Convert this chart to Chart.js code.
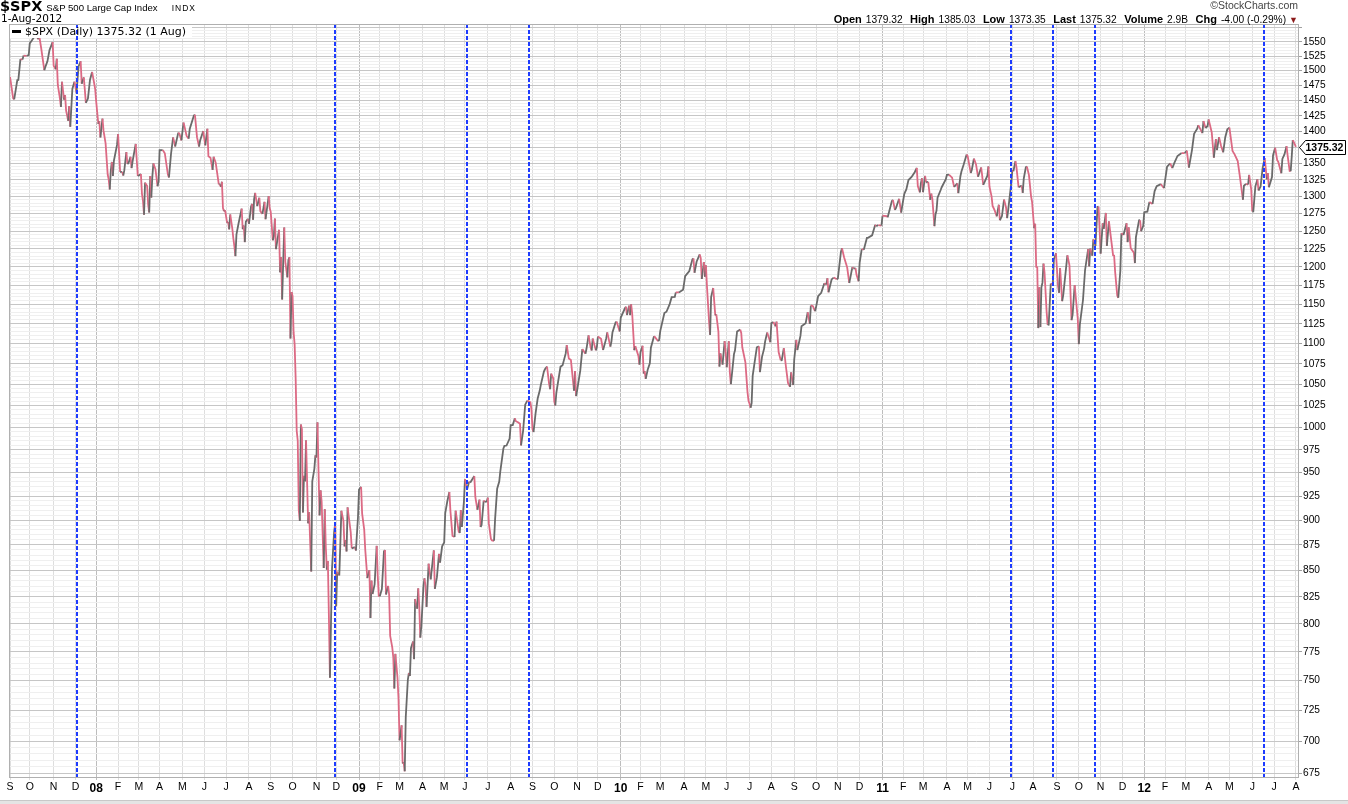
<!DOCTYPE html>
<html><head><meta charset="utf-8">
<script src="https://cdn.jsdelivr.net/npm/chart.js@4.4.1/dist/chart.umd.min.js"></script>
<style>
html,body{margin:0;padding:0;background:#fff;}
body{width:1348px;height:804px;position:relative;overflow:hidden;font-family:'Liberation Sans',Arial,sans-serif;color:#000;}
#wrap{position:absolute;left:0;top:0;width:1348px;height:804px;}
.abs{position:absolute;white-space:nowrap;}
.lb{font-weight:bold;font-size:11px;}
.vl{font-size:10.2px;margin-left:4px;}
.pr{margin-left:7.5px;}
</style></head><body>
<div id="wrap"><canvas id="c"></canvas></div>
<div class="abs" style="left:0;top:-2px;line-height:16px;"><span style="font-family:'DejaVu Sans';font-weight:bold;font-size:14.5px;">$SPX</span><span style="font-size:9.6px;margin-left:4px;">S&amp;P 500 Large Cap Index</span><span style="font-size:8.5px;letter-spacing:1px;margin-left:14px;">INDX</span></div>
<div class="abs" style="left:1px;top:11px;line-height:14px;font-family:'DejaVu Sans';font-size:10.5px;">1-Aug-2012</div>
<div class="abs" style="right:50px;top:-1px;line-height:13px;font-size:10.5px;color:#444;">©StockCharts.com</div>
<div class="abs" style="right:50px;top:11px;line-height:14px;"><span class="lb">Open</span><span class="vl">1379.32</span><span class="lb pr">High</span><span class="vl">1385.03</span><span class="lb pr">Low</span><span class="vl">1373.35</span><span class="lb pr">Last</span><span class="vl">1375.32</span><span class="lb pr">Volume</span><span class="vl">2.9B</span><span class="lb pr">Chg</span><span class="vl">-4.00 (-0.29%)</span><span style="font-size:9px;color:#8b1a1a;margin-left:3px;">▼</span></div>
<div class="abs" style="left:12px;top:30px;width:9px;height:3px;background:#000;"></div>
<div class="abs" style="left:25px;top:24px;line-height:15px;font-family:'DejaVu Sans';font-size:11px;">$SPX (Daily) 1375.32 (1 Aug)</div>
<div class="abs" style="left:0;top:800px;width:1348px;height:4px;background:#e4e4e4;border-top:1px solid #c8c8c8;"></div>
<script>
// ---- data ----
const dates = [
'2007-09-04','2007-09-07','2007-09-10','2007-09-13','2007-09-14','2007-09-18','2007-09-20','2007-09-21','2007-09-26','2007-09-28',
'2007-10-01','2007-10-05','2007-10-09','2007-10-11','2007-10-12','2007-10-16','2007-10-19','2007-10-22','2007-10-24','2007-10-26','2007-10-31',
'2007-11-01','2007-11-05','2007-11-06','2007-11-07','2007-11-09','2007-11-12','2007-11-13','2007-11-15','2007-11-16','2007-11-19','2007-11-21','2007-11-23','2007-11-26','2007-11-28','2007-11-30',
'2007-12-04','2007-12-06','2007-12-10','2007-12-11','2007-12-13','2007-12-14','2007-12-17','2007-12-19','2007-12-21','2007-12-26','2007-12-28','2007-12-31',
'2008-01-02','2008-01-04','2008-01-07','2008-01-08','2008-01-10','2008-01-11','2008-01-15','2008-01-17','2008-01-18','2008-01-22','2008-01-23','2008-01-24','2008-01-25','2008-01-28','2008-01-31',
'2008-02-01','2008-02-05','2008-02-07','2008-02-08','2008-02-11','2008-02-13','2008-02-14','2008-02-15','2008-02-20','2008-02-21','2008-02-22','2008-02-27','2008-02-29',
'2008-03-03','2008-03-05','2008-03-06','2008-03-07','2008-03-10','2008-03-11','2008-03-13','2008-03-14','2008-03-17','2008-03-18','2008-03-19','2008-03-20','2008-03-24','2008-03-26','2008-03-28','2008-03-31',
'2008-04-01','2008-04-04','2008-04-08','2008-04-11','2008-04-14','2008-04-16','2008-04-18','2008-04-22','2008-04-25','2008-04-28','2008-04-30',
'2008-05-02','2008-05-05','2008-05-07','2008-05-09','2008-05-12','2008-05-16','2008-05-19','2008-05-21','2008-05-23','2008-05-27','2008-05-30',
'2008-06-03','2008-06-05','2008-06-06','2008-06-10','2008-06-12','2008-06-13','2008-06-17','2008-06-20','2008-06-23','2008-06-24','2008-06-25','2008-06-26','2008-06-27','2008-06-30',
'2008-07-02','2008-07-03','2008-07-07','2008-07-08','2008-07-10','2008-07-11','2008-07-14','2008-07-15','2008-07-16','2008-07-18','2008-07-23','2008-07-24','2008-07-25','2008-07-28','2008-07-29','2008-07-31',
'2008-08-01','2008-08-05','2008-08-06','2008-08-07','2008-08-08','2008-08-11','2008-08-13','2008-08-15','2008-08-18','2008-08-20','2008-08-22','2008-08-25','2008-08-28','2008-08-29',
'2008-09-02','2008-09-04','2008-09-05','2008-09-08','2008-09-09','2008-09-12','2008-09-15','2008-09-16','2008-09-17','2008-09-18','2008-09-19','2008-09-22','2008-09-24','2008-09-25','2008-09-26','2008-09-29','2008-09-30',
'2008-10-01','2008-10-02','2008-10-03','2008-10-06','2008-10-07','2008-10-08','2008-10-09','2008-10-10','2008-10-13','2008-10-14','2008-10-15','2008-10-16','2008-10-17','2008-10-20','2008-10-22','2008-10-23','2008-10-24','2008-10-27','2008-10-28','2008-10-30','2008-10-31',
'2008-11-03','2008-11-04','2008-11-05','2008-11-06','2008-11-07','2008-11-10','2008-11-12','2008-11-13','2008-11-14','2008-11-17','2008-11-18','2008-11-19','2008-11-20','2008-11-21','2008-11-24','2008-11-26','2008-11-28',
'2008-12-01','2008-12-02','2008-12-04','2008-12-05','2008-12-08','2008-12-10','2008-12-11','2008-12-12','2008-12-15','2008-12-16','2008-12-17','2008-12-19','2008-12-22','2008-12-26','2008-12-29','2008-12-31',
'2009-01-02','2009-01-06','2009-01-07','2009-01-09','2009-01-12','2009-01-14','2009-01-16','2009-01-20','2009-01-21','2009-01-22','2009-01-23','2009-01-26','2009-01-28','2009-01-29','2009-01-30',
'2009-02-02','2009-02-04','2009-02-06','2009-02-09','2009-02-10','2009-02-12','2009-02-13','2009-02-17','2009-02-19','2009-02-20','2009-02-23','2009-02-24','2009-02-26','2009-02-27',
'2009-03-02','2009-03-04','2009-03-05','2009-03-06','2009-03-09','2009-03-10','2009-03-12','2009-03-13','2009-03-16','2009-03-17','2009-03-19','2009-03-20','2009-03-23','2009-03-25','2009-03-26','2009-03-27','2009-03-30','2009-03-31',
'2009-04-02','2009-04-03','2009-04-06','2009-04-07','2009-04-09','2009-04-14','2009-04-17','2009-04-20','2009-04-22','2009-04-24','2009-04-27','2009-04-29',
'2009-05-01','2009-05-04','2009-05-06','2009-05-08','2009-05-11','2009-05-13','2009-05-15','2009-05-18','2009-05-21','2009-05-22','2009-05-26','2009-05-27','2009-05-29',
'2009-06-01','2009-06-03','2009-06-05','2009-06-08','2009-06-12','2009-06-15','2009-06-17','2009-06-19','2009-06-22','2009-06-23','2009-06-25','2009-06-26','2009-06-30',
'2009-07-01','2009-07-02','2009-07-07','2009-07-08','2009-07-10','2009-07-13','2009-07-15','2009-07-17','2009-07-20','2009-07-23','2009-07-24','2009-07-28','2009-07-31',
'2009-08-03','2009-08-05','2009-08-07','2009-08-10','2009-08-12','2009-08-14','2009-08-17','2009-08-19','2009-08-21','2009-08-25','2009-08-28','2009-08-31',
'2009-09-01','2009-09-02','2009-09-04','2009-09-09','2009-09-11','2009-09-14','2009-09-17','2009-09-18','2009-09-22','2009-09-24','2009-09-25','2009-09-28','2009-09-30',
'2009-10-01','2009-10-02','2009-10-05','2009-10-09','2009-10-13','2009-10-16','2009-10-19','2009-10-21','2009-10-23','2009-10-26','2009-10-28','2009-10-29','2009-10-30',
'2009-11-02','2009-11-05','2009-11-09','2009-11-12','2009-11-13','2009-11-17','2009-11-19','2009-11-20','2009-11-23','2009-11-27','2009-11-30',
'2009-12-01','2009-12-04','2009-12-08','2009-12-11','2009-12-14','2009-12-17','2009-12-18','2009-12-21','2009-12-24','2009-12-28','2009-12-31',
'2010-01-04','2010-01-08','2010-01-11','2010-01-12','2010-01-14','2010-01-15','2010-01-19','2010-01-20','2010-01-22','2010-01-25','2010-01-28','2010-01-29',
'2010-02-01','2010-02-03','2010-02-04','2010-02-05','2010-02-08','2010-02-10','2010-02-12','2010-02-16','2010-02-19','2010-02-22','2010-02-25','2010-02-26',
'2010-03-01','2010-03-05','2010-03-09','2010-03-12','2010-03-16','2010-03-19','2010-03-22','2010-03-25','2010-03-26','2010-03-31',
'2010-04-01','2010-04-05','2010-04-09','2010-04-14','2010-04-15','2010-04-16','2010-04-20','2010-04-23','2010-04-26','2010-04-27','2010-04-29','2010-04-30',
'2010-05-03','2010-05-04','2010-05-06','2010-05-07','2010-05-10','2010-05-12','2010-05-14','2010-05-17','2010-05-19','2010-05-20','2010-05-21','2010-05-25','2010-05-27','2010-05-28',
'2010-06-01','2010-06-03','2010-06-04','2010-06-07','2010-06-08','2010-06-10','2010-06-11','2010-06-15','2010-06-18','2010-06-21','2010-06-22','2010-06-25','2010-06-29','2010-06-30',
'2010-07-01','2010-07-02','2010-07-06','2010-07-07','2010-07-09','2010-07-13','2010-07-15','2010-07-16','2010-07-20','2010-07-22','2010-07-23','2010-07-27','2010-07-30',
'2010-08-02','2010-08-04','2010-08-06','2010-08-09','2010-08-11','2010-08-13','2010-08-16','2010-08-18','2010-08-20','2010-08-24','2010-08-26','2010-08-27','2010-08-31',
'2010-09-01','2010-09-03','2010-09-07','2010-09-10','2010-09-13','2010-09-17','2010-09-21','2010-09-23','2010-09-24','2010-09-28','2010-09-30',
'2010-10-01','2010-10-05','2010-10-08','2010-10-13','2010-10-15','2010-10-18','2010-10-19','2010-10-22','2010-10-26','2010-10-29',
'2010-11-01','2010-11-04','2010-11-05','2010-11-09','2010-11-12','2010-11-16','2010-11-19','2010-11-22','2010-11-24','2010-11-26','2010-11-30',
'2010-12-01','2010-12-03','2010-12-07','2010-12-10','2010-12-13','2010-12-17','2010-12-22','2010-12-23','2010-12-28','2010-12-31',
'2011-01-03','2011-01-07','2011-01-10','2011-01-14','2011-01-18','2011-01-20','2011-01-21','2011-01-26','2011-01-28','2011-01-31',
'2011-02-02','2011-02-04','2011-02-08','2011-02-11','2011-02-16','2011-02-18','2011-02-22','2011-02-24','2011-02-25','2011-02-28',
'2011-03-01','2011-03-03','2011-03-04','2011-03-08','2011-03-10','2011-03-11','2011-03-14','2011-03-16','2011-03-17','2011-03-18','2011-03-21','2011-03-24','2011-03-25','2011-03-31',
'2011-04-01','2011-04-05','2011-04-08','2011-04-12','2011-04-15','2011-04-18','2011-04-20','2011-04-21','2011-04-26','2011-04-29',
'2011-05-02','2011-05-05','2011-05-06','2011-05-10','2011-05-12','2011-05-16','2011-05-19','2011-05-23','2011-05-27','2011-05-31',
'2011-06-01','2011-06-03','2011-06-06','2011-06-08','2011-06-10','2011-06-14','2011-06-15','2011-06-17','2011-06-21','2011-06-23','2011-06-24','2011-06-27','2011-06-30',
'2011-07-01','2011-07-05','2011-07-07','2011-07-08','2011-07-12','2011-07-15','2011-07-18','2011-07-19','2011-07-21','2011-07-22','2011-07-26','2011-07-28','2011-07-29',
'2011-08-02','2011-08-03','2011-08-04','2011-08-05','2011-08-08','2011-08-09','2011-08-10','2011-08-11','2011-08-12','2011-08-15','2011-08-16','2011-08-18','2011-08-19','2011-08-22','2011-08-24','2011-08-26','2011-08-29','2011-08-31',
'2011-09-02','2011-09-06','2011-09-07','2011-09-09','2011-09-12','2011-09-16','2011-09-20','2011-09-22','2011-09-23','2011-09-27','2011-09-30',
'2011-10-03','2011-10-04','2011-10-07','2011-10-11','2011-10-14','2011-10-17','2011-10-18','2011-10-20','2011-10-21','2011-10-25','2011-10-27','2011-10-28','2011-10-31',
'2011-11-01','2011-11-03','2011-11-04','2011-11-08','2011-11-09','2011-11-11','2011-11-14','2011-11-17','2011-11-18','2011-11-21','2011-11-23','2011-11-25','2011-11-29','2011-11-30',
'2011-12-02','2011-12-07','2011-12-08','2011-12-09','2011-12-13','2011-12-16','2011-12-19','2011-12-20','2011-12-23','2011-12-27','2011-12-28','2011-12-30',
'2012-01-03','2012-01-06','2012-01-10','2012-01-13','2012-01-18','2012-01-20','2012-01-26','2012-01-27','2012-01-31',
'2012-02-03','2012-02-08','2012-02-10','2012-02-14','2012-02-17','2012-02-24','2012-02-29',
'2012-03-02','2012-03-06','2012-03-09','2012-03-13','2012-03-16','2012-03-19','2012-03-23','2012-03-26','2012-03-28','2012-03-30',
'2012-04-02','2012-04-05','2012-04-10','2012-04-12','2012-04-13','2012-04-17','2012-04-19','2012-04-23','2012-04-25','2012-04-27',
'2012-05-01','2012-05-04','2012-05-08','2012-05-11','2012-05-15','2012-05-18','2012-05-21','2012-05-23','2012-05-25','2012-05-29','2012-05-31',
'2012-06-01','2012-06-04','2012-06-06','2012-06-08','2012-06-11','2012-06-13','2012-06-15','2012-06-19','2012-06-21','2012-06-22','2012-06-25','2012-06-28','2012-06-29',
'2012-07-03','2012-07-06','2012-07-09','2012-07-12','2012-07-13','2012-07-17','2012-07-19','2012-07-20','2012-07-24','2012-07-25','2012-07-26','2012-07-27','2012-07-31','2012-08-01'
];
const closes = [
1489.42,1453.55,1451.70,1483.95,1484.25,1519.78,1518.75,1525.75,1525.42,1526.75,
1547.04,1557.59,1565.15,1554.41,1561.80,1538.53,1500.63,1506.33,1515.88,1535.28,1549.38,
1508.44,1502.17,1520.27,1475.62,1453.70,1439.18,1481.05,1451.15,1458.74,1433.27,1416.77,1440.70,1407.22,1469.02,1481.14,
1462.79,1507.34,1515.96,1477.65,1488.41,1467.95,1445.90,1453.00,1484.46,1497.66,1478.49,1468.36,
1447.16,1411.63,1416.18,1390.19,1420.33,1401.02,1380.95,1333.25,1325.19,1310.50,1338.60,1352.07,1330.61,1353.96,1378.55,
1395.42,1336.64,1336.91,1331.29,1339.13,1367.21,1348.86,1349.99,1360.03,1342.53,1353.11,1380.02,1330.63,
1331.34,1333.70,1304.34,1293.37,1273.37,1320.65,1315.48,1288.14,1276.60,1330.74,1298.42,1329.51,1349.88,1341.13,1315.22,1322.70,
1370.18,1370.40,1365.54,1332.83,1328.32,1364.71,1390.33,1375.94,1397.84,1396.37,1385.59,
1413.90,1407.49,1392.57,1388.28,1403.58,1425.35,1426.63,1390.71,1375.93,1385.35,1400.38,
1377.65,1404.05,1360.68,1358.44,1339.87,1360.03,1350.93,1317.93,1318.00,1314.29,1321.97,1283.15,1278.38,1280.00,
1261.52,1262.90,1252.31,1273.70,1253.39,1239.49,1228.30,1214.91,1245.36,1260.68,1282.19,1252.54,1257.76,1234.37,1263.20,1267.38,
1260.31,1284.88,1289.19,1266.07,1296.32,1305.32,1285.83,1298.20,1278.60,1274.54,1292.20,1266.84,1300.68,1282.83,
1277.58,1236.83,1242.31,1267.79,1224.51,1251.70,1192.70,1213.60,1156.39,1206.51,1255.08,1207.09,1185.87,1209.18,1213.27,1106.39,1166.36,
1161.06,1114.28,1099.23,1056.89,996.23,984.94,909.92,899.22,1003.35,998.01,907.84,946.43,940.55,985.40,896.78,908.11,876.77,848.92,940.51,954.09,968.75,
966.30,1005.75,952.77,904.88,930.99,919.21,852.30,911.29,873.29,850.75,859.12,806.58,752.44,800.03,851.81,887.68,896.24,
816.21,848.81,845.22,876.07,909.70,899.24,873.59,879.73,868.57,913.18,904.42,887.88,871.63,872.80,869.42,903.25,
931.80,934.70,906.65,890.35,870.26,842.62,850.12,805.22,840.24,827.50,831.95,836.57,874.09,845.14,825.88,
825.44,832.23,868.60,869.89,827.16,835.19,826.84,789.17,778.94,770.05,743.33,773.14,752.83,735.09,
700.82,712.87,682.55,683.38,676.53,719.60,750.74,756.55,753.89,778.12,784.04,768.54,822.92,813.88,832.86,815.94,787.53,797.87,
834.38,842.50,835.48,815.55,856.56,841.50,869.60,832.39,843.55,866.23,857.51,873.64,
877.52,907.24,919.53,929.23,909.24,883.92,882.88,909.71,888.33,887.00,910.33,893.06,919.14,
942.87,931.76,940.09,939.14,946.21,923.72,910.71,921.23,893.04,895.10,920.26,918.90,919.32,
923.33,896.42,881.03,879.56,879.13,901.05,932.68,940.38,951.13,976.29,979.26,979.62,987.48,
1002.63,1002.72,1010.48,1007.10,1005.81,1004.09,979.73,996.46,1026.13,1030.98,1028.93,1020.62,
998.04,994.75,1016.40,1033.37,1042.73,1049.34,1065.49,1068.30,1071.66,1050.78,1044.38,1062.98,1057.08,
1029.85,1025.21,1040.46,1071.49,1073.19,1087.68,1097.91,1081.40,1079.60,1066.95,1042.63,1066.11,1036.19,
1042.88,1066.63,1093.08,1087.24,1093.48,1110.32,1094.90,1091.38,1106.24,1091.49,1095.63,
1108.86,1105.98,1091.94,1106.41,1114.11,1096.08,1102.47,1114.05,1126.48,1127.78,1115.10,
1132.99,1144.98,1146.98,1136.22,1148.46,1136.03,1150.23,1138.04,1091.76,1096.78,1084.53,1073.87,
1089.19,1097.28,1063.11,1066.19,1056.74,1068.13,1075.51,1094.87,1109.17,1108.01,1102.94,1104.49,
1115.71,1138.70,1140.45,1149.99,1159.46,1159.90,1165.81,1165.73,1166.59,1169.43,
1178.10,1187.44,1194.37,1210.65,1211.67,1192.13,1207.17,1217.28,1212.05,1183.71,1206.78,1186.69,
1202.26,1173.60,1128.15,1110.88,1159.73,1171.67,1135.68,1136.94,1115.05,1071.59,1087.69,1074.03,1103.06,1089.41,
1070.71,1102.83,1064.88,1050.47,1062.00,1086.84,1091.60,1115.23,1117.51,1113.20,1095.31,1076.76,1041.24,1030.71,
1027.37,1022.58,1028.06,1060.27,1077.96,1095.34,1096.48,1064.88,1083.48,1093.67,1102.66,1113.84,1101.60,
1125.86,1127.24,1121.64,1127.79,1089.47,1079.25,1079.38,1094.16,1071.69,1051.87,1047.22,1064.59,1049.33,
1080.29,1104.51,1091.84,1109.55,1121.90,1125.59,1139.78,1124.83,1148.67,1147.70,1141.20,
1146.24,1160.75,1165.15,1178.10,1176.19,1184.71,1165.90,1183.08,1185.64,1183.26,
1184.38,1221.06,1225.85,1213.40,1199.21,1178.34,1199.73,1197.84,1198.35,1189.40,1180.55,
1206.07,1224.71,1223.75,1240.40,1240.46,1243.91,1258.84,1256.77,1258.51,1257.64,
1271.87,1271.50,1269.75,1293.24,1295.02,1280.26,1283.35,1296.63,1276.34,1286.12,
1304.03,1310.87,1324.57,1329.15,1336.32,1343.01,1315.44,1306.10,1319.88,1327.22,
1306.33,1330.97,1321.15,1321.82,1295.11,1304.28,1296.39,1256.88,1273.72,1279.21,1298.38,1309.66,1313.80,1325.83,
1332.41,1332.63,1328.17,1314.16,1319.68,1305.14,1330.36,1337.38,1347.24,1363.61,
1361.22,1335.10,1340.20,1357.16,1348.65,1329.47,1343.60,1317.37,1331.10,1345.20,
1314.55,1300.16,1286.17,1279.56,1270.98,1287.87,1265.42,1271.50,1295.52,1283.50,1268.45,1280.10,1320.64,
1339.67,1337.88,1353.22,1343.80,1313.64,1316.14,1305.44,1326.73,1343.80,1345.02,1331.94,1300.67,1292.28,
1254.05,1260.34,1200.07,1199.38,1119.46,1172.53,1120.76,1172.64,1178.81,1204.49,1192.76,1140.65,1123.53,1123.82,1177.60,1176.80,1210.08,1218.89,
1173.97,1165.24,1198.62,1154.23,1162.27,1216.01,1202.09,1129.56,1136.43,1175.38,1131.42,
1099.23,1123.95,1155.46,1195.54,1224.58,1200.86,1225.38,1215.39,1238.25,1229.05,1284.59,1285.09,1253.30,
1218.28,1261.15,1253.23,1275.92,1229.10,1263.85,1251.78,1216.13,1215.65,1192.98,1161.79,1158.67,1195.19,1246.96,
1244.28,1261.01,1234.35,1255.19,1225.73,1219.66,1205.35,1241.30,1265.33,1265.43,1249.64,1257.60,
1277.06,1277.81,1292.08,1289.09,1308.04,1315.38,1318.43,1316.33,1312.41,
1344.90,1349.96,1342.64,1350.50,1361.23,1365.74,1365.68,
1369.63,1343.36,1370.87,1395.95,1404.17,1409.75,1397.11,1416.51,1405.22,1408.47,
1419.04,1398.08,1358.59,1387.57,1370.26,1390.78,1376.92,1366.94,1390.69,1403.36,
1405.82,1369.10,1363.72,1353.39,1330.66,1295.22,1315.99,1318.86,1317.82,1332.42,1310.33,
1278.04,1278.18,1315.13,1325.66,1308.93,1314.88,1342.84,1357.98,1325.51,1335.02,1313.72,1329.04,1362.16,
1374.02,1354.68,1352.46,1334.76,1356.78,1363.67,1376.51,1362.66,1338.31,1337.89,1360.02,1385.97,1379.32,1375.32
];
// NYSE holidays in the period (trading-day calendar)
const holidays = ['2007-11-22','2007-12-25','2008-01-01','2008-01-21','2008-02-18','2008-03-21','2008-05-26','2008-07-04','2008-09-01','2008-11-27','2008-12-25',
'2009-01-01','2009-01-19','2009-02-16','2009-04-10','2009-05-25','2009-07-03','2009-09-07','2009-11-26','2009-12-25',
'2010-01-01','2010-01-18','2010-02-15','2010-04-02','2010-05-31','2010-07-05','2010-09-06','2010-11-25','2010-12-24',
'2011-01-17','2011-02-21','2011-04-22','2011-05-30','2011-07-04','2011-09-05','2011-11-24','2011-12-26',
'2012-01-02','2012-01-16','2012-02-20','2012-04-06','2012-05-28','2012-07-04'];
// blue dashed marker dates
const markerDates = ['2007-12-04','2008-11-28','2009-06-03','2009-08-27','2011-06-30','2011-08-26','2011-10-25','2012-06-18'];
const monthLetters = ['J','F','M','A','M','J','J','A','S','O','N','D'];
const lastValue = 1375.32;
const lastLabel = '1375.32';

// ---- trading-day calendar ----
const hol = new Set(holidays);
const tradingDays = [];
for (let t = Date.UTC(2007,8,4); t <= Date.UTC(2012,7,10); t += 86400000) {
  const dt = new Date(t); const wd = dt.getUTCDay(); const s = dt.toISOString().slice(0,10);
  if (wd === 0 || wd === 6 || hol.has(s)) continue;
  tradingDays.push(s);
}
const dayIndex = new Map(tradingDays.map((s,i)=>[s,i]));
function idx(s){ if (dayIndex.has(s)) return dayIndex.get(s); return tradingDays.findIndex(d=>d>s); }

const monthTicks = [], monthLabels = [], monthIsYear = [];
tradingDays.forEach((s,i)=>{
  if (i === 0 || s.slice(0,7) !== tradingDays[i-1].slice(0,7)) {
    const mo = +s.slice(5,7);
    monthTicks.push(i);
    if (mo === 1) { monthLabels.push(s.slice(2,4)); monthIsYear.push(true); }
    else { monthLabels.push(monthLetters[mo-1]); monthIsYear.push(false); }
  }
});
const X_MIN = -1, X_MAX = 1241;
const visTicks = monthTicks.map((d,i)=>({d,i})).filter(o=>o.d>=X_MIN && o.d<=X_MAX);

const yGrid = [];
for (let v = 675; v <= 1575; v += 5) yGrid.push(v);

const points = dates.map((d,i)=>({x: idx(d), y: closes[i]}));

const DOWN = '#dc6a84', UP = '#6a6a6a';

const overlay = {
  id: 'overlay',
  afterDatasetsDraw(chart) {
    const {ctx, chartArea: a, scales} = chart;
    ctx.save();
    // legend background box
    ctx.fillStyle = '#fff';
    ctx.fillRect(a.left + 1, a.top + 1, 182, 13);
    // dashed markers
    ctx.strokeStyle = '#1e3cff'; ctx.lineWidth = 2; ctx.setLineDash([4,2]);
    markerDates.forEach(d=>{
      const x = Math.round(scales.x.getPixelForValue(idx(d)));
      ctx.beginPath(); ctx.moveTo(x, a.top); ctx.lineTo(x, a.bottom); ctx.stroke();
    });
    ctx.setLineDash([]);
    // frame
    ctx.strokeStyle = '#b0b0b0'; ctx.lineWidth = 1;
    ctx.strokeRect(a.left + 0.5, a.top + 0.5, a.right - a.left - 1, a.bottom - a.top);
    ctx.restore();
  },
  afterDraw(chart) {
    const {ctx, chartArea: a, scales} = chart;
    const y = Math.round(scales.y.getPixelForValue(lastValue)) + 0.5;
    const x0 = a.right + 0.5;
    ctx.save();
    ctx.beginPath();
    ctx.moveTo(x0, y); ctx.lineTo(x0 + 6, y - 7); ctx.lineTo(1345.5, y - 7);
    ctx.lineTo(1345.5, y + 7); ctx.lineTo(x0 + 6, y + 7); ctx.closePath();
    ctx.fillStyle = '#fff'; ctx.fill();
    ctx.strokeStyle = '#000'; ctx.lineWidth = 1; ctx.stroke();
    ctx.fillStyle = '#000'; ctx.font = 'bold 10.5px "Liberation Sans", Arial, sans-serif';
    ctx.textBaseline = 'middle'; ctx.textAlign = 'left';
    ctx.fillText(lastLabel, x0 + 6, y + 0.5);
    ctx.restore();
  }
};

new Chart(document.getElementById('c'), {
  type: 'line',
  data: { datasets: [{
    data: points,
    borderWidth: 1.8,
    borderColor: UP,
    pointRadius: 0,
    tension: 0,
    segment: { borderColor: c => c.p1.parsed.y < c.p0.parsed.y ? DOWN : UP }
  }]},
  options: {
    responsive: true, maintainAspectRatio: false, animation: false,
    layout: { padding: { left: 9, top: 24, right: 0, bottom: 0 } },
    plugins: { legend: { display: false }, tooltip: { enabled: false } },
    scales: {
      x: {
        type: 'linear', min: X_MIN, max: X_MAX,
        afterBuildTicks: s => { s.ticks = visTicks.map(o=>({value: o.d})); },
        afterFit: s => { s.height = 27; },
        border: { display: false },
        grid: {
          color: c => (c.tick && visTicks[c.index] && monthIsYear[visTicks[c.index].i]) ? '#bdbdbd' : '#dedede',
          tickLength: 3, drawTicks: true
        },
        ticks: {
          autoSkip: false, maxRotation: 0, padding: 1, color: '#000',
          callback: (v, i) => monthLabels[visTicks[i].i],
          font: c => (visTicks[c.index] && monthIsYear[visTicks[c.index].i])
            ? { family: "'Liberation Sans', Arial, sans-serif", size: 12, weight: 'bold' }
            : { family: "'Liberation Sans', Arial, sans-serif", size: 10.5 }
        }
      },
      y: {
        type: 'logarithmic', position: 'right', min: 672.2, max: 1581.5,
        afterBuildTicks: s => { s.ticks = yGrid.map(v=>({value: v})); },
        afterFit: s => { s.width = 49; },
        border: { display: false },
        grid: {
          color: c => (c.tick && c.tick.value % 25 === 0) ? '#c6c6c6' : '#efefef',
          tickColor: c => (c.tick && c.tick.value % 25 === 0) ? '#a0a0a0' : 'rgba(0,0,0,0)',
          tickLength: 3
        },
        ticks: {
          autoSkip: false, padding: 1, color: '#000',
          font: { family: "'Liberation Sans', Arial, sans-serif", size: 10.2 },
          callback: v => (v % 25 === 0 && v <= 1550) ? String(v) : ''
        }
      }
    }
  },
  plugins: [overlay]
});
</script>
</body></html>
